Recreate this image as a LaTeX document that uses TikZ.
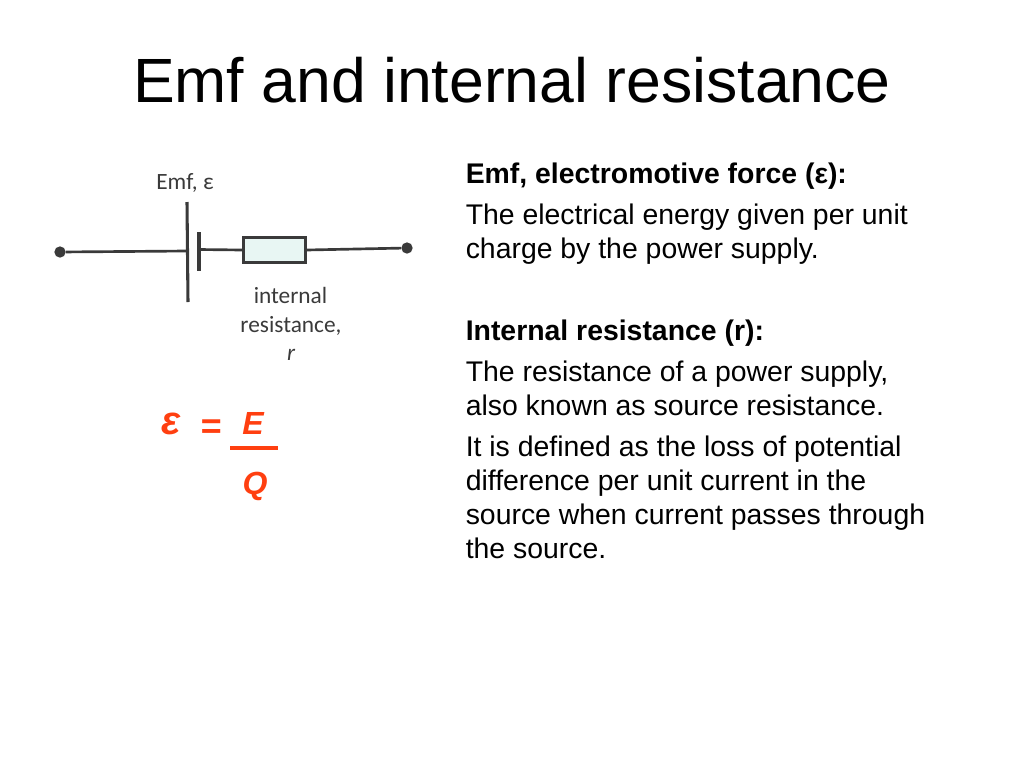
\documentclass[tikz,border=0pt]{standalone}
\usepackage{fontspec}
\setmainfont{Liberation Sans}
\newfontfamily\scanfont{Carlito}
\definecolor{eqred}{HTML}{FF3F10}
\definecolor{inkgrey}{HTML}{3A3A3A}
\definecolor{resfill}{HTML}{E8F6F3}
\tikzset{
  x=0.75pt,y=-0.75pt,
  wire/.style={draw=inkgrey,line width=2pt},
  plate/.style={draw=inkgrey,line width=2.3pt},
  terminal/.style={circle,fill=inkgrey,draw=none,minimum size=8.5pt,inner sep=0pt},
  resistor/.style={rectangle,draw=inkgrey,line width=2.2pt,fill=resfill,minimum width=46pt,minimum height=19pt,inner sep=0pt},
  bodytext/.style={anchor=base west,inner sep=0pt,font=\fontsize{21.3}{25}\selectfont},
  headtext/.style={anchor=base west,inner sep=0pt,font=\fontsize{21.3}{25}\selectfont\bfseries},
  scanlabel/.style={anchor=base,inner sep=0pt,text=inkgrey,font=\scanfont\fontsize{17.5}{21}\selectfont},
  eqtext/.style={anchor=base,inner sep=0pt,text=eqred,font=\fontsize{24}{28}\selectfont\bfseries\itshape},
}
\begin{document}
\begin{tikzpicture}
\useasboundingbox (0,0) rectangle (1024,768);
\node[anchor=base,inner sep=0pt,font=\fontsize{46.9}{56}\selectfont] (title) at (512,102) {Emf and internal resistance};
% circuit
\node[terminal] (ldot) at (60,252) {};
\node[terminal] (rdot) at (407,248) {};
\node[resistor] (res) at (274.5,250) {};
\coordinate (ltop) at (187,202);
\coordinate (lbot) at (188,302);
\coordinate (lmid) at (187,251);
\coordinate (stop) at (199,232);
\coordinate (sbot) at (199,271);
\coordinate (smid) at (199,249.5);
\draw[wire] (ldot) -- (lmid);
\draw[wire] (smid) -- (res.west);
\draw[wire] (res.east) -- (rdot);
\draw[plate] (ltop) -- (lbot);
\draw[plate] (stop) -- (sbot);
\node[scanlabel] (emf) at (185,189) {Emf, ε};
\node[scanlabel] (int) at (290.5,303) {internal};
\node[scanlabel] (rst) at (291,332) {resistance,};
\node[scanlabel,font=\scanfont\itshape\fontsize{17.5}{21}\selectfont] (rr) at (291,360) {r};
% equation
\node[eqtext,font=\fontsize{30}{34}\selectfont\bfseries\itshape] (eps) at (171,434) {ε};
\node[eqtext,font=\fontsize{27}{31}\selectfont\bfseries\itshape] (eq) at (211.5,438) {=};
\node[eqtext] (ee) at (253,434) {E};
\node[eqtext] (qq) at (255,494) {Q};
\draw[eqred,line width=2.6pt] (230,448) -- (278,448);
% text
\node[headtext] (h1) at (465.5,183.5) {Emf, electromotive force (ε):};
\node[bodytext] (b1) at (465.5,224.5) {The electrical energy given per unit};
\node[bodytext] (b2) at (465.5,258.5) {charge by the power supply.};
\node[headtext] (h2) at (465.5,340.5) {Internal resistance (r):};
\node[bodytext] (b3) at (465.5,381.5) {The resistance of a power supply,};
\node[bodytext] (b4) at (465.5,415.5) {also known as source resistance.};
\node[bodytext] (b5) at (465.5,456.5) {It is defined as the loss of potential};
\node[bodytext] (b6) at (465.5,490.5) {difference per unit current in the};
\node[bodytext] (b7) at (465.5,524.5) {source when current passes through};
\node[bodytext] (b8) at (465.5,558.5) {the source.};
\end{tikzpicture}
\end{document}
